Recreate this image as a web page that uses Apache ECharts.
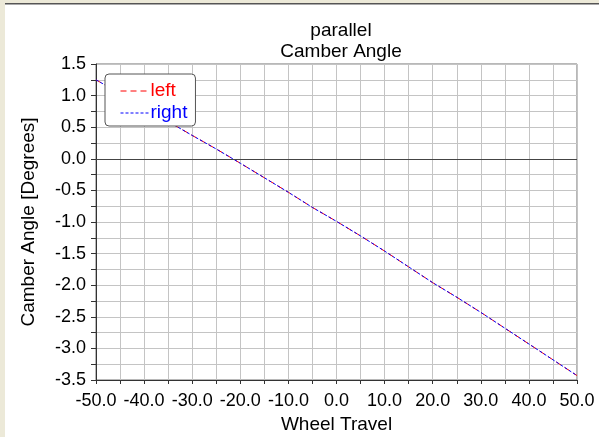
<!DOCTYPE html>
<html>
<head>
<meta charset="utf-8">
<script src="https://cdn.jsdelivr.net/npm/echarts@6/dist/echarts.min.js"></script>
<style>
  html, body { margin: 0; padding: 0; background: #fff; }
  #chart { width: 599px; height: 437px; }
</style>
</head>
<body>
<div id="chart"></div>
<script>
// wheel travel (mm) and camber angle (deg)
var travel = [-50, -45, -40, -35, -30, -25, -20, -15, -10, -5, 0, 5, 10, 15, 20, 25, 30, 35, 40, 45, 50];
var camberLeft = [1.25, 1.03, 0.81, 0.59, 0.37, 0.155, -0.07, -0.30, -0.53, -0.77, -0.99, -1.22, -1.46, -1.71, -1.96, -2.19, -2.43, -2.68, -2.93, -3.18, -3.43];
var camberRight = [1.25, 1.03, 0.81, 0.59, 0.37, 0.155, -0.07, -0.30, -0.53, -0.77, -0.99, -1.22, -1.46, -1.71, -1.96, -2.19, -2.43, -2.68, -2.93, -3.18, -3.43];

function pairs(xs, ys) {
  return xs.map(function (x, i) { return [x, ys[i]]; });
}

var font = 'Liberation Sans, Arial, sans-serif';
var chart = echarts.init(document.getElementById('chart'));

chart.setOption({
  backgroundColor: '#fff',
  animation: false,
  textStyle: { fontFamily: font },
  title: {
    text: 'parallel\nCamber Angle',
    left: 336,
    top: 15,
    textAlign: 'center',
    textStyle: { fontSize: 19, fontWeight: 'normal', color: '#000', lineHeight: 21, fontFamily: font }
  },
  graphic: [
    { type: 'rect', shape: { x: 0, y: 0, width: 5, height: 437 }, style: { fill: '#ECE9D8' }, silent: true },
    { type: 'rect', shape: { x: 0, y: 0, width: 599, height: 3 }, style: { fill: '#ECE9D8' }, silent: true },
    { type: 'rect', shape: { x: 5, y: 3, width: 594, height: 1.5 }, style: { fill: '#555' }, silent: true }
  ],
  grid: {
    left: 96, right: 22, top: 64, bottom: 57,
    outerBoundsMode: 'none',
    show: true, borderColor: '#707070', borderWidth: 1, backgroundColor: '#fff'
  },
  legend: {
    left: 105, top: 74,
    z: 10,
    orient: 'vertical',
    backgroundColor: '#fff',
    borderColor: '#555',
    borderWidth: 1,
    borderRadius: 4,
    padding: [6, 8, 2, 15],
    itemWidth: 28,
    itemHeight: 14,
    itemGap: 0,
    itemStyle: { opacity: 0 },
    lineStyle: { width: 1 },
    textStyle: { fontSize: 19, lineHeight: 22, fontFamily: font, padding: [0, 0, 0, -3] },
    data: [
      { name: 'left', textStyle: { color: '#ff0000' } },
      { name: 'right', textStyle: { color: '#0000ff' } }
    ]
  },
  xAxis: {
    type: 'value',
    min: -50, max: 50, interval: 10,
    name: 'Wheel Travel',
    nameLocation: 'middle',
    nameGap: 33,
    nameTextStyle: { fontSize: 19, color: '#000', fontFamily: font },
    axisLine: { onZero: false, lineStyle: { color: '#333', width: 1 } },
    axisTick: { show: true, inside: false, length: 4, lineStyle: { color: '#333' } },
    minorTick: { show: true, splitNumber: 2, length: 4, lineStyle: { color: '#333' } },
    axisLabel: {
      margin: 12, fontSize: 18, color: '#000', fontFamily: font,
      formatter: function (v) { return v.toFixed(1); }
    },
    splitLine: { show: true, lineStyle: { color: '#c4c4c4', width: 1 } },
    minorSplitLine: { show: true, lineStyle: { color: '#c4c4c4', width: 1 } }
  },
  yAxis: {
    type: 'value',
    min: -3.5, max: 1.5, interval: 0.5,
    name: 'Camber Angle [Degrees]',
    nameLocation: 'middle',
    nameGap: 58,
    nameTextStyle: { fontSize: 19, color: '#000', fontFamily: font },
    axisLine: { show: true, onZero: false, lineStyle: { color: '#333', width: 1 } },
    axisTick: { show: true, inside: false, length: 5, lineStyle: { color: '#333' } },
    minorTick: { show: true, splitNumber: 2, length: 5, lineStyle: { color: '#333' } },
    axisLabel: {
      margin: 10, fontSize: 18, color: '#000', fontFamily: font,
      formatter: function (v) { return v.toFixed(1); }
    },
    splitLine: { show: true, lineStyle: { color: '#c4c4c4', width: 1 } },
    minorSplitLine: { show: true, lineStyle: { color: '#c4c4c4', width: 1 } }
  },
  series: [
    {
      name: 'left',
      type: 'line',
      symbol: 'none',
      data: pairs(travel, camberLeft),
      itemStyle: { color: '#ff0000' },
      lineStyle: { color: '#ff0000', width: 1, type: [6, 4] },
      markLine: {
        silent: true,
        symbol: ['none', 'none'],
        label: { show: false },
        lineStyle: { color: '#444', width: 1, type: 'solid' },
        data: [{ yAxis: 0 }]
      },
      z: 3
    },
    {
      name: 'right',
      type: 'line',
      symbol: 'none',
      data: pairs(travel, camberRight),
      itemStyle: { color: '#0000ff' },
      lineStyle: { color: '#0000ff', width: 1, type: [3, 2] },
      z: 4
    }
  ]
});
</script>
</body>
</html>
